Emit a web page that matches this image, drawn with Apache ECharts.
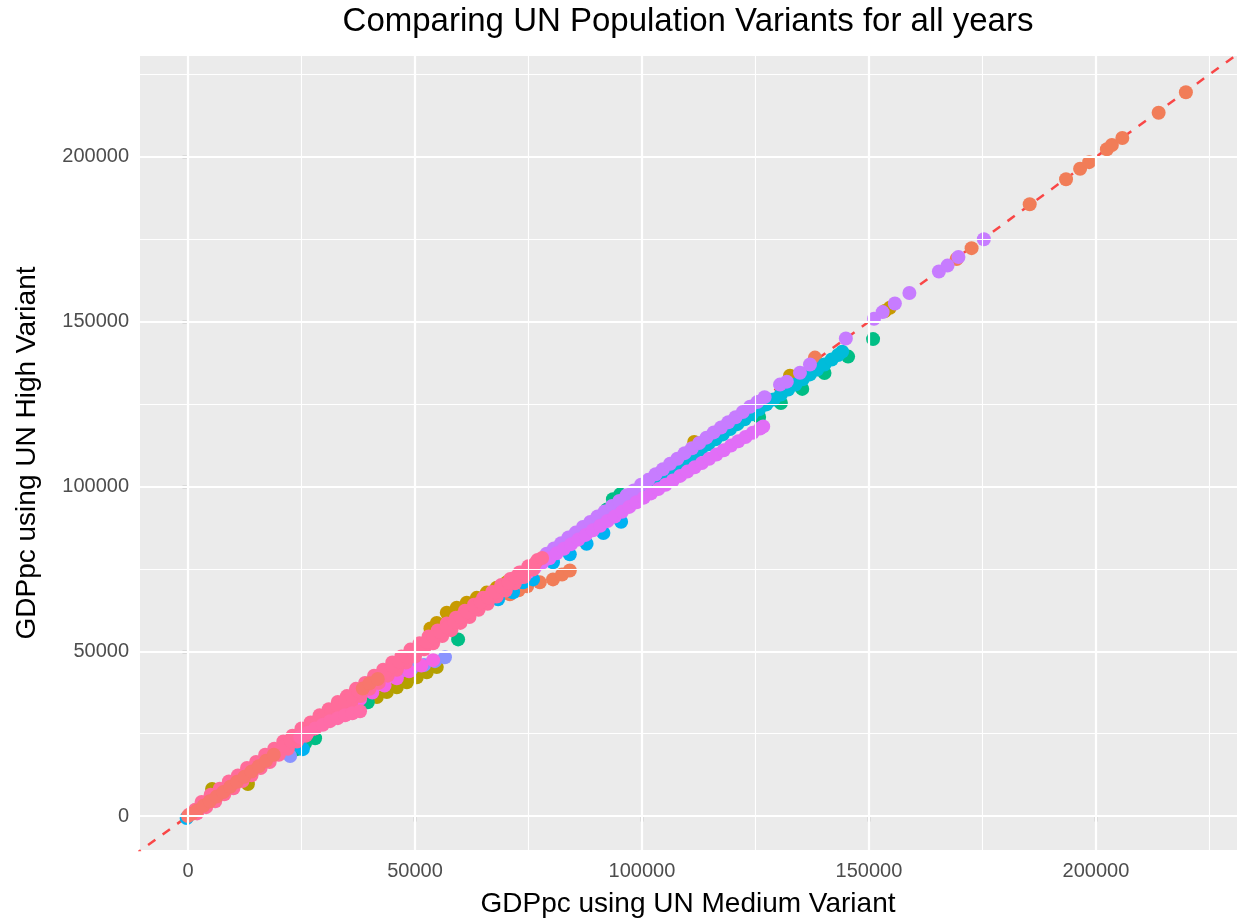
<!DOCTYPE html>
<html><head><meta charset="utf-8">
<script src="https://cdn.jsdelivr.net/npm/echarts@6/dist/echarts.min.js"></script>
<style>html,body{margin:0;padding:0;background:#fff}#c{width:1238px;height:924px}</style>
</head><body><div id="c"></div>
<script>
// ---- tick labels / grid positions ----
const xTicks = [0, 50000, 100000, 150000, 200000];
const yTicks = [0, 50000, 100000, 150000, 200000];
const xMinor = [25000, 75000, 125000, 175000, 225000];
const yMinor = [25000, 75000, 125000, 175000, 225000];
const xRange = [-10570, 231060];
const yRange = [-10300, 230600];
const abline = [[-12000, -12000], [232000, 232000]];

// ---- series values: [GDPpc medium, GDPpc high] ----
const orange = [[70900,67300],[72800,68500],[74700,69700],[77500,70900],[80400,71800],[82400,73300],[84100,74500],
  [112800,112700],[138100,139100],[169300,169000],[172600,172300],[185400,185600],[193400,193200],[196500,196400],
  [198500,198400],[202400,202300],[203500,203600],[205800,205700],[213800,213400],[219800,219600]];
const gold = [[53400,56900],[54800,58600],[57000,61700],[59200,63200],[61400,64700],[63600,66200],[65800,67800],
  [68000,69300],[70200,70900],[111500,113500],[132600,133600],[153500,153200],[154600,154200]];
const olive = [[5300,8200],[13200,9700],[37300,34000],[39500,35000],[41600,36100],[43800,37600],[46000,39100],
  [48200,40600],[50400,42100],[52600,43600],[54800,45200]];
const green = [[24000,20300],[25800,22100],[28000,23600],[39600,34500],[59500,53600],[92300,93000],[93600,96100],
  [95200,97600],[125800,121100],[130600,125300],[135300,129600],[140200,134400],[145400,139400],[150900,144700]];
const cyan = [[81000,80900],[82600,82400],[84200,84000],[85800,85500],[87400,87000],[89000,88500],[90600,90000],
  [92200,91500],[93800,93100],[95400,94600],[97000,96100],[98600,97600],[100200,99200],[101800,100700],
  [103400,102200],[105000,103700],[106600,105200],[108200,106700],[109800,108200],[111400,109700],[113000,111300],
  [114600,112800],[116200,114300],[117800,115800],[119400,117400],[121000,118900],[122600,120400],[124200,121900],
  [125800,123400],[127400,124900],[129000,126400],[130600,127900],[132200,129400],[133800,130900],[135400,132500],
  [137000,134000],[138600,135500],[140200,137000],[141800,138500],[143200,139900],[144100,140900]];
const skyblue = [[-300,-600],[24700,21200],[25300,20300],[68300,65800],[71600,67900],[73800,70900],[76000,71800],
  [80400,77000],[84100,79400],[87800,82600],[91500,85900],[95400,89300]];
const periwinkle = [[22500,18200],[46700,43900],[49300,44800],[52000,45800],[54400,47000],[56600,48200]];
const hotpink = [[37900,35500],[40600,37500],[43300,39600],[46000,41800],[48700,43900],[51400,45700],[54000,47300]];
const purple = [[79000,79600],[80600,81200],[82200,82800],[83800,84500],[85400,86000],[87000,87700],[88600,89200],
  [90200,90900],[91800,92400],[93400,94100],[95000,95600],[96600,97300],[98200,98800],[99800,100500],
  [101400,102000],[103000,103700],[104600,105200],[106200,106900],[107800,108400],[109400,110100],[111000,111600],
  [112600,113200],[114200,114800],[115800,116400],[117400,117900],[119000,119500],[120600,121000],[122200,122600],
  [123800,124200],[125400,125600],[127000,127100],[130400,130900],[131900,131800],[134800,134500],[137000,137000],
  [144900,144900],[151100,150900],[153000,152900],[155700,155500],[158900,158700],[165400,165200],[167300,167000],
  [169700,169600],[175300,175000]];
const magenta = [[71600,70900],[73200,72400],[74800,73900],[76400,75300],[78000,76800],[79600,78200],[81200,79700],
  [82800,81100],[84400,82500],[86000,83900],[87600,85300],[89200,86700],[90800,88100],[92400,89500],[94000,90900],
  [95600,92300],[97200,93800],[98800,95200],[100400,96600],[102000,97900],[103600,99200],[105200,100500],
  [106800,101800],[108400,103200],[110000,104500],[111600,105800],[113200,107100],[114800,108400],[116400,109700],
  [118000,111000],[119600,112400],[121200,113700],[122800,115000],[124400,116300],[126000,117600],[126700,118200]];
const pinkLow = [[2000,800],[4000,2700],[6000,4500],[8000,6600],[10000,8400],[12000,10600],[14000,12400],
  [16000,14600],[18000,16400],[20000,18600],[22000,20400],[24000,22600],[26000,24400],[28000,26600],[30000,28400],
  [32000,30600],[34000,32400],[36000,34600],[38000,36400],[40000,38600],[42000,40400],[44000,42600],[46000,44400],
  [48000,46600],[50000,48400],[52000,50600],[54000,52400],[56000,54600],[58000,56400],[60000,58600],[62000,60400],
  [64000,62600],[66000,64400],[68000,66600],[70000,68400],[72000,70600],[74000,72500],[76000,74800]];
const pinkTop = [[3000,4300],[5000,6500],[7000,8300],[9000,10500],[11000,12300],[13000,14600],[15000,16400],
  [17000,18600],[19000,20400],[21000,22600],[23000,24400],[25000,26600],[27000,28400],[29000,30600],[31000,32400],
  [33000,34600],[35000,36400],[37000,38600],[39000,40400],[41000,42600],[43000,44400],[45000,46600],[47000,48400],
  [49000,50500],[51000,52400],[53000,54500],[55000,56300],[57000,58400],[59000,60200],[61000,62300],[63000,64100],
  [65000,66200],[67000,68000],[69000,70100],[71000,71900],[73000,73900],[75000,75800],[77000,77700]];
const pink = [[300,500],[1600,1900],[3100,3300],[4600,4900],[6000,6400],[7600,7900],[9100,9300],[10500,10900],
  [12100,12300],[13600,13900],[15000,15400],[16600,16800],[18100,18400],[19500,19900],[21100,21300],[22600,22900],
  [24000,24400],[25600,25800],[27100,27400],[28500,28900],[30100,30300],[31600,31900],[33000,33400],[34600,34800],
  [36100,36400],[37500,37900],[39100,39300],[40600,40900],[42000,42400],[43600,43800],[45100,45400],[46500,46900],
  [48100,48300],[49600,49900],[51000,51400],[52600,52800],[54100,54400],[55500,55900],[57100,57300],[58600,58900],
  [60000,60400],[61600,61800],[63100,63400],[64500,64900],[66100,66300],[67600,67900],[69000,69400],[70600,70800],
  [72100,72400],[73500,73900],[75100,75300],[76600,76900],[78000,78300]];
const pinkBranch = [[24700,24000],[26400,25300],[28000,26600],[29700,27700],[31300,28800],[33000,29700],
  [34600,30600],[36200,31200],[37900,31800]];
const salmon = [[0,0],[800,700],[2000,1700],[3400,3100],[4800,4500],[6300,5900],[7800,7300],[9300,8900],
  [10800,10400],[12400,11900],[14000,13500],[15600,15100],[17200,16800],[18900,18600],[38500,38700],
  [40000,40300],[41800,41600]];

const FONT = '"Liberation Sans", Arial, Helvetica, sans-serif';
const chart = echarts.init(document.getElementById('c'), null, {renderer: 'canvas'});

function pts(data, color) {
  return {type: 'scatter', data: data, symbolSize: 14, z: 3, silent: true, animation: false,
    itemStyle: {color: color, opacity: 1, borderWidth: 0}};
}
const gridLines = []
  .concat(xTicks.map(v => ({xAxis: v, lineStyle: {color: '#ffffff', width: 2.2, type: 'solid'}})))
  .concat(xMinor.map(v => ({xAxis: v, lineStyle: {color: '#ffffff', width: 1.1, type: 'solid'}})))
  .concat(yTicks.map(v => ({yAxis: v, lineStyle: {color: '#ffffff', width: 2.2, type: 'solid'}})))
  .concat(yMinor.map(v => ({yAxis: v, lineStyle: {color: '#ffffff', width: 1.1, type: 'solid'}})));

const axisCommon = {
  type: 'value',
  axisLine: {show: false},
  splitLine: {show: false},
  axisTick: {show: true, length: 5.5, lineStyle: {color: '#333333', width: 2.2}},
  axisLabel: {color: '#4D4D4D', fontSize: 20, fontFamily: FONT, margin: 11, formatter: v => String(v)}
};

chart.setOption({
  animation: false,
  backgroundColor: '#ffffff',
  grid: {left: 140, right: 1, top: 56, bottom: 74, show: true, backgroundColor: '#EBEBEB', borderWidth: 0},
  xAxis: Object.assign({}, axisCommon, {min: xRange[0], max: xRange[1],
    axisTick: Object.assign({}, axisCommon.axisTick, {customValues: xTicks}),
    axisLabel: Object.assign({}, axisCommon.axisLabel, {customValues: xTicks})}),
  yAxis: Object.assign({}, axisCommon, {min: yRange[0], max: yRange[1],
    axisTick: Object.assign({}, axisCommon.axisTick, {customValues: yTicks}),
    axisLabel: Object.assign({}, axisCommon.axisLabel, {customValues: yTicks})}),
  graphic: [
    {type: 'text', x: 688, y: 22, style: {text: 'Comparing UN Population Variants for all years', font: '33px ' + FONT, fill: '#000', align: 'center', verticalAlign: 'middle'}},
    {type: 'text', x: 688, y: 904, style: {text: 'GDPpc using UN Medium Variant', font: '28px ' + FONT, fill: '#000', align: 'center', verticalAlign: 'middle'}},
    {type: 'text', x: 27, y: 453, rotation: Math.PI / 2, style: {text: 'GDPpc using UN High Variant', font: '28px ' + FONT, fill: '#000', align: 'center', verticalAlign: 'middle'}}
  ],
  series: [
    {type: 'line', data: [], z: 1, silent: true, markLine: {silent: true, symbol: ['none', 'none'], label: {show: false}, animation: false, data: gridLines}},
    {type: 'line', data: abline, z: 2, symbol: 'none', silent: true, lineStyle: {color: 'rgba(255,0,0,0.7)', width: 2.5, type: [9, 9]}},
    pts(orange, '#F17D58'),
    pts(gold, '#C79A00'),
    pts(olive, '#B4A000'),
    pts(green, '#00BE85'),
    pts(cyan, '#00BCDA'),
    pts(skyblue, '#00B2F2'),
    pts(periwinkle, '#8A94FF'),
    pts(hotpink, '#F564E3'),
    pts(purple, '#C77CFF'),
    pts(magenta, '#E16EF7'),
    pts(pinkLow, '#FF6C9A'),
    pts(pinkTop, '#FF6C9A'),
    pts(pink, '#FF6C9A'),
    pts(pinkBranch, '#FF6CA8'),
    pts(salmon, '#F8766D')
  ]
});
</script>
</body></html>
